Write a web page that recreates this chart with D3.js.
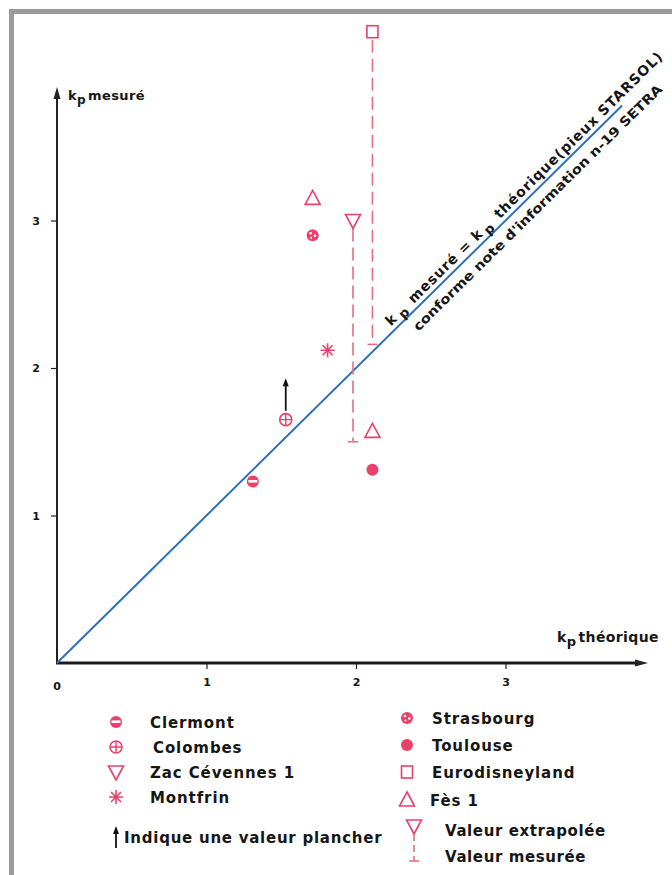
<!DOCTYPE html>
<html>
<head>
<meta charset="utf-8">
<script src="https://cdn.jsdelivr.net/npm/d3@7"></script>
<style>
  html, body { margin: 0; padding: 0; background: #fff; }
  svg text { font-family: "DejaVu Sans", sans-serif; font-weight: bold; fill: #161616; }
</style>
</head>
<body>
<div id="chart"></div>
<script>
// sites shown in legend
const legendLeft = ["Clermont", "Colombes", "Zac Cévennes 1", "Montfrin"];
const legendLeftShape = ["half", "cross", "triDown", "star"];
const legendRight = ["Strasbourg", "Toulouse", "Eurodisneyland", "Fès 1"];
const legendRightShape = ["spots", "filled", "square", "triUp"];

// measured points (kp théorique, kp mesuré)
const pointShape = ["half", "cross", "star", "spots", "filled", "triUp", "triUp", "triDown", "square"];
const kpTheo = [1.31, 1.53, 1.81, 1.71, 2.11, 1.71, 2.11, 1.98, 2.11];
const kpMes  = [1.23, 1.65, 2.12, 2.90, 1.31, 3.15, 1.57, 3.00, 4.28];

// extrapolated value -> measured value
const rangeTheo = [1.98, 2.11];
const rangeTop = [3.00, 4.28];
const rangeMeasured = [1.50, 2.16];

// floor value arrow (Colombes)
const floorTheo = [1.53];
const floorFrom = [1.71];
const floorTo = [1.93];

const tickVals = [1, 2, 3];
const lineEnd = 3.78;

const W = 672, H = 875;
const red = "#e8416a", redDash = "#e46f80", blue = "#2f6fb8";

const svg = d3.select("#chart").append("svg")
  .attr("width", W).attr("height", H);

// frame (top / left grey edges)
svg.append("rect").attr("x", 9).attr("y", 9).attr("width", W - 9).attr("height", 5).attr("fill", "#9b9b9b");
svg.append("rect").attr("x", 9).attr("y", 9).attr("width", 5).attr("height", H - 9).attr("fill", "#9b9b9b");

const x = d3.scaleLinear().domain([0, 4]).range([57, 655]);
const y = d3.scaleLinear().domain([0, 4]).range([663, 73]);

// axes
const gx = svg.append("g").attr("transform", `translate(0,${y(0)})`)
  .call(d3.axisBottom(x).tickValues(tickVals).tickFormat(d3.format("d")).tickSizeInner(6).tickSizeOuter(0).tickPadding(9));
const gy = svg.append("g").attr("transform", `translate(${x(0)},0)`)
  .call(d3.axisLeft(y).tickValues(tickVals).tickFormat(d3.format("d")).tickSizeInner(6).tickSizeOuter(0).tickPadding(11));
[gx, gy].forEach(g => {
  g.select(".domain").remove();
  g.selectAll("line").attr("stroke", "#222").attr("stroke-width", 1.2);
  g.selectAll("text").attr("font-size", 11).attr("font-family", "DejaVu Sans").attr("font-weight", "bold").attr("fill", "#161616");
});
svg.append("text").attr("x", x(0)).attr("y", y(0) + 27).attr("text-anchor", "middle").attr("font-size", 11).text("0");

// axis lines with arrows
svg.append("rect").attr("x", x(0) - 1).attr("y", y(0) - 1.5).attr("width", 640 - x(0)).attr("height", 3).attr("fill", "#1a1a1a");
svg.append("rect").attr("x", x(0) - 1).attr("y", 96).attr("width", 2).attr("height", y(0) - 96).attr("fill", "#222");
svg.append("path").attr("d", `M${x(0)},87 l-3.5,12 h7 z`).attr("fill", "#222");
svg.append("path").attr("d", `M648,${y(0)} l-13,-3.5 v7 z`).attr("fill", "#222");

// axis titles
function kpLabel(px, py, rest, size) {
  const t = svg.append("text").attr("x", px).attr("y", py).attr("font-size", size).attr("letter-spacing", 0.4);
  t.append("tspan").text("k");
  t.append("tspan").attr("dy", 4).attr("font-size", size - 1).text("p");
  t.append("tspan").attr("dy", -4).attr("dx", 2).text(rest);
}
kpLabel(68, 100, "mesuré", 13);
kpLabel(557, 642, "théorique", 14);

// 1:1 line
svg.append("path")
  .datum([0, lineEnd])
  .attr("fill", "none").attr("stroke", blue).attr("stroke-width", 2)
  .attr("d", d3.line().x(d => x(d)).y(d => y(d)));

// rotated labels along the line
const ang = -Math.atan2(y(0) - y(1), x(1) - x(0)) * 180 / Math.PI;
const lab = svg.append("g").attr("transform", `translate(${x(0)},${y(0)}) rotate(${ang})`);
const t1 = lab.append("text").attr("x", 474).attr("y", -5).attr("font-size", 14).attr("letter-spacing", 0.9);
t1.append("tspan").text("k");
t1.append("tspan").attr("dy", 4).attr("dx", 4).attr("font-size", 13).text("p");
t1.append("tspan").attr("dy", -4).attr("dx", 2).text(" mesuré = k");
t1.append("tspan").attr("dy", 4).attr("dx", 3).attr("font-size", 13).text("p");
t1.append("tspan").attr("dy", -4).attr("dx", 3).text(" théorique(pieux STARSOL)");
lab.append("text").attr("x", 490).attr("y", 18).attr("font-size", 13)
  .attr("textLength", 344).attr("lengthAdjust", "spacingAndGlyphs")
  .text("conforme note d'information n-19 SETRA");

// dashed ranges
rangeTheo.forEach((v, i) => {
  svg.append("line")
    .attr("x1", x(v)).attr("x2", x(v))
    .attr("y1", y(rangeTop[i]) + 8).attr("y2", y(rangeMeasured[i]))
    .attr("stroke", redDash).attr("stroke-width", 1.6).attr("stroke-dasharray", "13,6");
  svg.append("line")
    .attr("x1", x(v) - 5).attr("x2", x(v) + 5)
    .attr("y1", y(rangeMeasured[i])).attr("y2", y(rangeMeasured[i]))
    .attr("stroke", redDash).attr("stroke-width", 1.6);
});

// floor arrow
floorTheo.forEach((v, i) => {
  svg.append("line").attr("x1", x(v)).attr("x2", x(v))
    .attr("y1", y(floorFrom[i])).attr("y2", y(floorTo[i]) + 6)
    .attr("stroke", "#111").attr("stroke-width", 1.8);
  svg.append("path").attr("d", `M${x(v)},${y(floorTo[i])} l-3,8 h6 z`).attr("fill", "#111");
});

// marker drawing
function marker(g, shape) {
  switch (shape) {
    case "half":
      g.append("circle").attr("r", 6).attr("fill", red);
      g.append("rect").attr("x", -4.5).attr("y", -1.6).attr("width", 9).attr("height", 2.6).attr("fill", "#fff");
      break;
    case "cross":
      g.append("circle").attr("r", 6).attr("fill", "#fff").attr("stroke", red).attr("stroke-width", 1.6);
      g.append("path").attr("d", "M-6,0H6M0,-6V6").attr("stroke", red).attr("stroke-width", 1.4);
      break;
    case "spots":
      g.append("circle").attr("r", 6).attr("fill", red);
      g.append("circle").attr("cx", -2).attr("cy", -2).attr("r", 1.3).attr("fill", "#fff");
      g.append("circle").attr("cx", 2.3).attr("cy", 0.5).attr("r", 1.3).attr("fill", "#fff");
      g.append("circle").attr("cx", -1.5).attr("cy", 2.6).attr("r", 1).attr("fill", "#fff");
      break;
    case "filled":
      g.append("circle").attr("r", 6).attr("fill", red);
      break;
    case "square":
      g.append("rect").attr("x", -5.5).attr("y", -6).attr("width", 11).attr("height", 12)
        .attr("fill", "#fff").attr("stroke", red).attr("stroke-width", 1.6);
      break;
    case "triUp":
      g.append("path").attr("d", "M0,-8L7.5,6H-7.5Z").attr("fill", "#fff").attr("stroke", red).attr("stroke-width", 1.6);
      break;
    case "triDown":
      g.append("path").attr("d", "M0,8L7.5,-6H-7.5Z").attr("fill", "#fff").attr("stroke", red).attr("stroke-width", 1.6);
      break;
    case "star":
      g.append("path").attr("d", "M-7,0H7M0,-7V7M-5,-5L5,5M-5,5L5,-5").attr("stroke", red).attr("stroke-width", 1.6);
      break;
  }
}

kpTheo.forEach((v, i) => {
  marker(svg.append("g").attr("transform", `translate(${x(v)},${y(kpMes[i])})`), pointShape[i]);
});

// legend
const legRowsL = [722, 747, 772, 797];
const legTextXL = [150, 153, 150, 150];
legendLeft.forEach((name, i) => {
  marker(svg.append("g").attr("transform", `translate(116,${legRowsL[i]})`), legendLeftShape[i]);
  svg.append("text").attr("x", legTextXL[i]).attr("y", legRowsL[i] + 6).attr("font-size", 15)
    .attr("letter-spacing", 0.9).text(name);
});
svg.append("line").attr("x1", 116).attr("x2", 116).attr("y1", 848).attr("y2", 832)
  .attr("stroke", "#111").attr("stroke-width", 1.8);
svg.append("path").attr("d", "M116,826 l-3,8 h6 z").attr("fill", "#111");
svg.append("text").attr("x", 124).attr("y", 843).attr("font-size", 15).attr("letter-spacing", 0.75)
  .text("Indique une valeur plancher");

const legRowsR = [718, 745, 772, 800];
const legTextXR = [432, 432, 432, 430];
legendRight.forEach((name, i) => {
  marker(svg.append("g").attr("transform", `translate(407,${legRowsR[i]})`), legendRightShape[i]);
  svg.append("text").attr("x", legTextXR[i]).attr("y", legRowsR[i] + 6).attr("font-size", 15)
    .attr("letter-spacing", 0.9).text(name);
});
// extrapolated / measured key
marker(svg.append("g").attr("transform", "translate(414,826)"), "triDown");
svg.append("line").attr("x1", 414).attr("x2", 414).attr("y1", 834).attr("y2", 861)
  .attr("stroke", redDash).attr("stroke-width", 1.6).attr("stroke-dasharray", "7,4");
svg.append("line").attr("x1", 409).attr("x2", 419).attr("y1", 861).attr("y2", 861)
  .attr("stroke", redDash).attr("stroke-width", 1.6);
svg.append("text").attr("x", 445).attr("y", 836).attr("font-size", 15).attr("letter-spacing", 0.6).text("Valeur extrapolée");
svg.append("text").attr("x", 445).attr("y", 862).attr("font-size", 15).attr("letter-spacing", 0.6).text("Valeur mesurée");
</script>
</body>
</html>
